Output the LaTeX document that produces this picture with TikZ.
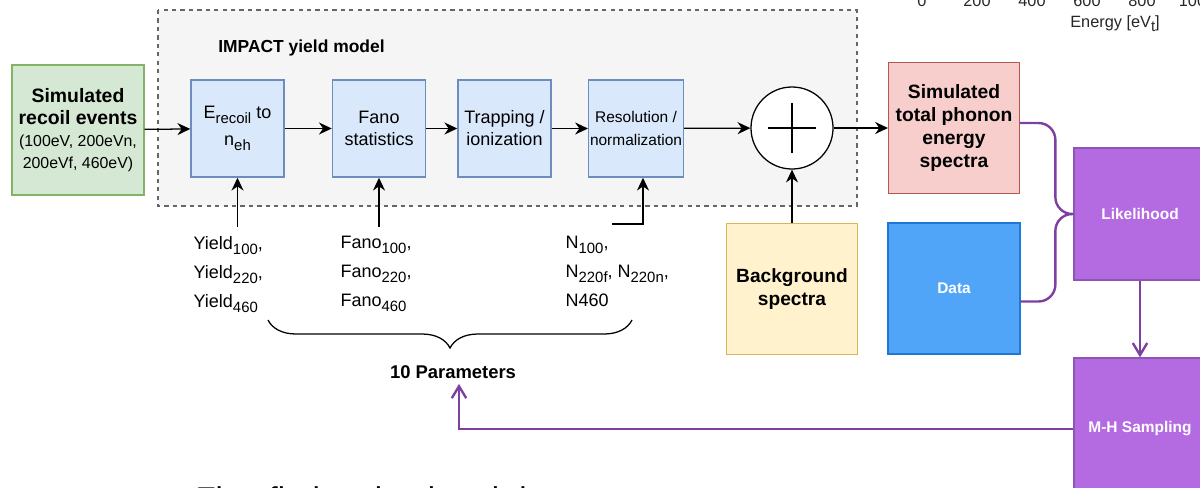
\documentclass[tikz,border=0pt]{standalone}
\usepackage{fontspec}
\setmainfont{Liberation Sans}
\usepackage{xcolor}
\usepackage{tikz}
\usetikzlibrary{arrows.meta, calc, decorations.pathreplacing}

\definecolor{grnfill}{HTML}{D5E8D4}
\definecolor{grnedge}{HTML}{82B366}
\definecolor{bluefill}{HTML}{DAE8FC}
\definecolor{blueedge}{HTML}{6C8EBF}
\definecolor{redfill}{HTML}{F8CECC}
\definecolor{rededge}{HTML}{B85450}
\definecolor{yelfill}{HTML}{FFF2CC}
\definecolor{yeledge}{HTML}{D6B656}
\definecolor{datafill}{HTML}{51A5F8}
\definecolor{dataedge}{HTML}{1F78D6}
\definecolor{purfill}{HTML}{B46AE1}
\definecolor{puredge}{HTML}{8E55B4}
\definecolor{purline}{HTML}{7D3FA0}
\definecolor{boxgray}{HTML}{F5F5F5}
\definecolor{dashgray}{HTML}{666666}

% drawio-like subscript: larger and lower than \textsubscript
\newcommand{\subtx}[1]{\raisebox{-0.55ex}{\fontsize{10.6}{12}\selectfont #1}}

\tikzset{
  stage/.style={draw=blueedge, fill=bluefill, minimum width=2.33cm,
    minimum height=2.43cm, align=center, inner sep=1pt,
    font=\fontsize{12.8}{15.6}\selectfont},
  bigbox/.style={minimum width=3.27cm, minimum height=3.27cm,
    align=center, inner sep=1pt},
  purbox/.style={draw=puredge, fill=purfill, minimum width=3.3cm,
    text=white, font=\fontsize{11}{13}\selectfont\bfseries},
  parlist/.style={anchor=north west, align=left, inner xsep=0pt,
    inner ysep=6pt, font=\fontsize{12.8}{20.6}\selectfont},
  pline/.style={draw=purline, line width=1.7pt},
  tick/.style={anchor=base, text=black!85, font=\fontsize{11.6}{13}\selectfont}
}

\begin{document}
\begin{tikzpicture}[x=0.025cm, y=-0.025cm, >={Stealth[length=3.2mm, width=3mm]},
    line width=0.9pt]
  \useasboundingbox (0,0) rectangle (1200,487);

  % yield model frame
  \draw[dashgray, dashed, fill=boxgray, line width=0.8pt] (158,10) rectangle (857,206);
  \node[anchor=west, font=\fontsize{12.4}{14}\selectfont\bfseries] (ttl) at (213,48) {IMPACT yield model};

  % inputs
  \node[bigbox, draw=grnedge, fill=grnfill, minimum width=3.3cm, minimum height=3.25cm,
    font=\fontsize{11.3}{15.5}\selectfont] (rec) at (78,130)
    {{\fontsize{13.8}{15.5}\selectfont\bfseries Simulated}\\
     {\fontsize{13.8}{15.5}\selectfont\bfseries recoil events}\\
     (100eV, 200eVn,\\ 200eVf, 460eV)};

  % stages
  \node[stage, font=\fontsize{12.8}{19}\selectfont] (yr) at (237.5,128.5)
    {E\subtx{recoil} to\\ n\subtx{eh}};
  \node[stage] (fano) at (379,128.5) {Fano\\ statistics};
  \node[stage] (trap) at (504.5,128.5) {Trapping /\\ ionization};
  \node[stage, font=\fontsize{11}{16.3}\selectfont] (res) at (636,128.5)
    {Resolution /\\ normalization};

  \node[circle, draw, fill=white, minimum size=2.05cm] (sum) at (792,128) {};
  \draw ($(sum.center)+(-24,0)$) -- ($(sum.center)+(24,0)$);
  \draw ($(sum.center)+(0,-25)$) -- ($(sum.center)+(0,25)$);

  \node[bigbox, draw=rededge, fill=redfill, font=\fontsize{13.7}{16.3}\selectfont\bfseries]
    (tot) at (954,128) {Simulated\\ total phonon\\ energy\\ spectra};
  \node[bigbox, draw=yeledge, fill=yelfill, font=\fontsize{13.6}{16.3}\selectfont\bfseries]
    (bg) at (792,289) {Background\\ spectra};
  \node[bigbox, draw=dataedge, fill=datafill, minimum width=3.3cm, text=white,
    font=\fontsize{11}{13}\selectfont\bfseries] (dat) at (954,288.5) {Data};
  \node[purbox, minimum height=3.3cm] (like) at (1140,214) {Likelihood};
  \node[purbox, minimum height=3.55cm] (mh) at (1140,429) {M-H Sampling};

  % parameter lists
  \node[parlist] (ylab) at (193,227)
    {Yield\subtx{100},\\ Yield\subtx{220},\\ Yield\subtx{460}};
  \node[parlist] (flab) at (340,227)
    {Fano\subtx{100},\\ Fano\subtx{220},\\ Fano\subtx{460}};
  \node[parlist] (nlab) at (565,227)
    {N\subtx{100},\\ N\subtx{220f}, N\subtx{220n},\\ N460};
  \draw[decorate, decoration={brace, mirror, amplitude=7mm}] (268,320) -- (632,320);
  \node[font=\fontsize{13.1}{15}\selectfont\bfseries] (params) at (453,372) {10 Parameters};

  % flow
  \draw[->] (rec) -- (yr);
  \draw[->] (yr) -- (fano);
  \draw[->] (fano) -- (trap);
  \draw[->] (trap) -- (res);
  \draw[->] (res) -- (sum);
  \draw[->] (sum) -- (tot);
  \draw[->] (bg) -- (sum);
  \draw[->] (ylab.north -| yr.south) -- (yr.south);
  \draw[->] (flab.north -| fano.south) -- (fano.south);
  \draw[->] ($(nlab.north west)+(47,-3)$) -| ($(res.south)+(7,0)$);

  % fit loop
  \draw[pline, rounded corners=12pt] ($(tot.east)+(0,-5)$) -| ($(like.west)+(-18,0)$) -- (like.west);
  \draw[pline, rounded corners=12pt] ($(dat.east)+(0,13)$) -| ($(like.west)+(-18,0)$) -- (like.west);
  \draw[pline, -{Straight Barb[length=3mm, width=3.6mm]}] (like) -- (mh);
  \draw[pline, -{Straight Barb[length=3mm, width=3.6mm]}] (mh.west) -| ($(params.south)+(6,0)$);

  % leftovers at the edges
  \foreach \v/\xx in {0/922, 200/977, 400/1032, 600/1087, 800/1142, 1000/1197}
    \node[tick] (t\v) at (\xx,6) {\v};
  \node[tick] (elab) at (1115,27) {Energy [eV\subtx{t}]};
  \node[anchor=base west, font=\fontsize{23.4}{26}\selectfont, inner sep=0pt] (note)
    at (195,510) {First fit the simulated data to};
\end{tikzpicture}
\end{document}
